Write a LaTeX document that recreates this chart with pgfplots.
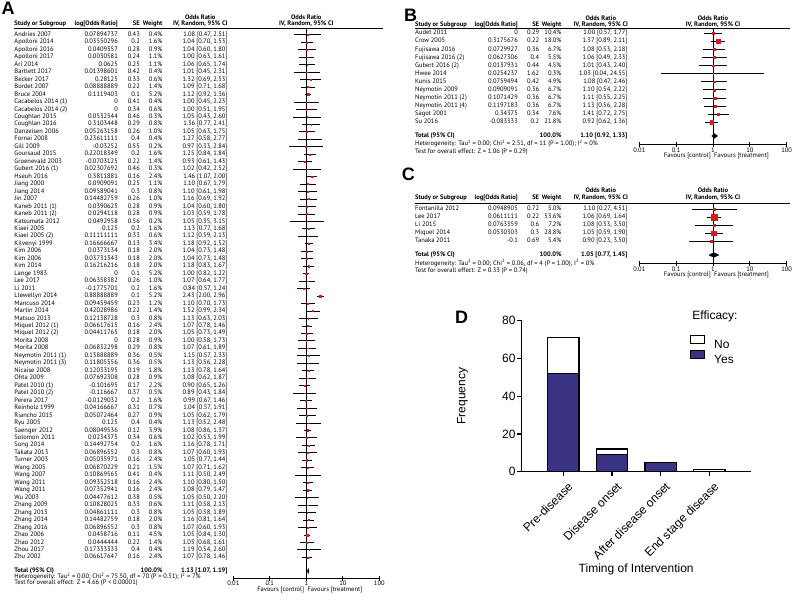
\documentclass[border=0pt]{standalone}
\usepackage{fontspec}
\setmainfont{PT Sans}
\newfontfamily\arial{Liberation Sans}
\usepackage{pgfplots}
\usepackage{pgfplotstable}
\pgfplotsset{compat=1.18}

\definecolor{orred}{RGB}{214,28,32}
\definecolor{yesblue}{RGB}{58,50,130}
\newcommand\fs{\fontsize{6.5}{7.5}\selectfont}
\newcommand\dfont{\arial\fontsize{12}{14}\selectfont}
\newcommand\lfont{\arial\bfseries\fontsize{18}{20}\selectfont}

% panel A: study; log OR; SE; weight; OR; CI low; CI high
\pgfplotstableread[col sep=semicolon]{
study;lor;se;w;or;lo;hi
Andries 2007;0.07894737;0.43;0.4;1.08;0.47;2.51
Apolloni 2014;0.03550296;0.2;1.6;1.04;0.70;1.53
Apolloni 2016;0.0409357;0.28;0.9;1.04;0.60;1.80
Apolloni 2017;0.0030581;0.24;1.1;1.00;0.63;1.61
Ari 2014;0.0625;0.25;1.1;1.06;0.65;1.74
Bartlett 2017;0.01398601;0.42;0.4;1.01;0.45;2.31
Becker 2017;0.28125;0.33;0.6;1.32;0.69;2.53
Bordet 2007;0.08888889;0.22;1.4;1.09;0.71;1.68
Bruce 2004;0.1119403;0.1;5.2;1.12;0.92;1.36
Cacabelos 2014 (1);0;0.41;0.4;1.00;0.45;2.23
Cacabelos 2014 (2);0;0.34;0.6;1.00;0.51;1.95
Coughlan 2015;0.0532544;0.46;0.3;1.05;0.43;2.60
Coughlan 2016;0.3103448;0.29;0.8;1.36;0.77;2.41
Danzeisen 2006;0.05263158;0.26;1.0;1.05;0.63;1.75
Fornai 2008;0.23611111;0.4;0.4;1.27;0.58;2.77
Gill 2009;-0.03252;0.55;0.2;0.97;0.33;2.84
Goursaud 2015;0.22018349;0.2;1.6;1.25;0.84;1.84
Groenevald 2003;-0.0703125;0.22;1.4;0.93;0.61;1.43
Gubert 2016 (1);0.02307692;0.46;0.3;1.02;0.42;2.52
Hseuh 2016;0.3811881;0.16;2.4;1.46;1.07;2.00
Jiang 2000;0.0909091;0.25;1.1;1.10;0.67;1.79
Jiang 2014;0.09589041;0.3;0.8;1.10;0.61;1.98
Jin 2007;0.14482759;0.26;1.0;1.16;0.69;1.92
Kaneb 2011 (1);0.0390625;0.28;0.9;1.04;0.60;1.80
Kaneb 2011 (2);0.0294118;0.28;0.9;1.03;0.59;1.78
Katsumata 2012;0.0492958;0.56;0.2;1.05;0.35;3.15
Kiaei 2005;0.125;0.2;1.6;1.13;0.77;1.68
Kiaei 2005 (2);0.11111111;0.33;0.6;1.12;0.59;2.13
Kilvenyi 1999;0.16666667;0.13;3.4;1.18;0.92;1.52
Kim 2006;0.0373134;0.18;2.0;1.04;0.73;1.48
Kim 2006;0.03731343;0.18;2.0;1.04;0.73;1.48
Kim 2014;0.16216216;0.18;2.0;1.18;0.83;1.67
Lange 1983;0;0.1;5.2;1.00;0.82;1.22
Lee 2017;0.06358382;0.26;1.0;1.07;0.64;1.77
Li 2011;-0.1775701;0.2;1.6;0.84;0.57;1.24
Llewellyn 2014;0.88888889;0.1;5.2;2.43;2.00;2.96
Mancuso 2014;0.09459459;0.23;1.2;1.10;0.70;1.73
Martin 2014;0.42028986;0.22;1.4;1.52;0.99;2.34
Matsuo 2013;0.12138728;0.3;0.8;1.13;0.63;2.03
Miquel 2012 (1);0.06617615;0.16;2.4;1.07;0.78;1.46
Miquel 2012 (2);0.04411765;0.18;2.0;1.05;0.73;1.49
Morita 2008;0;0.28;0.9;1.00;0.58;1.73
Morita 2008;0.06832298;0.29;0.8;1.07;0.61;1.89
Neymotin 2011 (1);0.13888889;0.36;0.5;1.15;0.57;2.33
Neymotin 2011 (3);0.11805556;0.36;0.5;1.13;0.56;2.28
Nicaise 2008;0.12033195;0.19;1.8;1.13;0.78;1.64
Ohta 2009;0.07692308;0.28;0.9;1.08;0.62;1.87
Patel 2010 (1);-0.101695;0.17;2.2;0.90;0.65;1.26
Patel 2010 (2);-0.116667;0.37;0.5;0.89;0.43;1.84
Perera 2017;-0.0129032;0.2;1.6;0.99;0.67;1.46
Reinholz 1999;0.04166667;0.31;0.7;1.04;0.57;1.91
Riancho 2015;0.05072464;0.27;0.9;1.05;0.62;1.79
Ryu 2005;0.125;0.4;0.4;1.13;0.52;2.48
Saenger 2012;0.08049536;0.12;3.9;1.08;0.86;1.37
Solomon 2011;0.0234375;0.34;0.6;1.02;0.53;1.99
Song 2014;0.14492754;0.2;1.6;1.16;0.78;1.71
Takata 2013;0.06896552;0.3;0.8;1.07;0.60;1.93
Turner 2003;0.05035971;0.16;2.4;1.05;0.77;1.44
Wang 2005;0.06870229;0.21;1.5;1.07;0.71;1.62
Wang 2007;0.10869565;0.41;0.4;1.11;0.50;2.49
Wang 2011;0.09352518;0.16;2.4;1.10;0.80;1.50
Wang 2011;0.07352941;0.16;2.4;1.08;0.79;1.47
Wu 2003;0.04477612;0.38;0.5;1.05;0.50;2.20
Zhang 2009;0.10828025;0.33;0.6;1.11;0.58;2.13
Zhang 2013;0.04861111;0.3;0.8;1.05;0.58;1.89
Zhang 2014;0.14482759;0.18;2.0;1.16;0.81;1.64
Zhang 2016;0.06896552;0.3;0.8;1.07;0.60;1.93
Zhao 2006;0.0458716;0.11;4.5;1.05;0.84;1.30
Zhao 2012;0.0444444;0.22;1.4;1.05;0.68;1.61
Zhou 2017;0.17333333;0.4;0.4;1.19;0.54;2.60
Zhu 2002;0.06617647;0.16;2.4;1.07;0.78;1.46
}\tabA

\pgfplotstableread[col sep=semicolon]{
study;lor;se;w;or;lo;hi
Audet 2011;0;0.29;10.4;1.00;0.57;1.77
Crow 2005;0.3175676;0.22;18.0;1.37;0.89;2.11
Fujisawa 2016;0.0729927;0.36;6.7;1.08;0.53;2.18
Fujisawa 2016 (2);0.0627306;0.4;5.5;1.06;0.49;2.33
Gubert 2016 (2);0.0137931;0.44;4.5;1.01;0.43;2.40
Hwee 2014;0.0254237;1.62;0.3;1.03;0.04;24.55
Kunis 2015;0.0759494;0.42;4.9;1.08;0.47;2.46
Neymotin 2009;0.0909091;0.36;6.7;1.10;0.54;2.22
Neymotin 2011 (2);0.1071429;0.36;6.7;1.11;0.55;2.25
Neymotin 2011 (4);0.1197183;0.36;6.7;1.13;0.56;2.28
Sagot 2001;0.34375;0.34;7.6;1.41;0.72;2.75
Su 2016;-0.083333;0.2;21.8;0.92;0.62;1.36
}\tabB

\pgfplotstableread[col sep=semicolon]{
study;lor;se;w;or;lo;hi
Fontanilla 2012;0.0948905;0.72;5.0;1.10;0.27;4.51
Lee 2017;0.0611111;0.22;53.6;1.06;0.69;1.64
Li 2015;0.0763359;0.6;7.2;1.08;0.33;3.50
Miquel 2014;0.0530303;0.3;28.8;1.05;0.59;1.90
Tanaka 2011;-0.1;0.69;5.4;0.90;0.23;3.50
}\tabC

\pgfplotsset{
  forest/.style={scale only axis, width=146pt, xmin=-2, xmax=2, clip=false,
    axis x line=bottom, axis y line=none, axis line style={-, black, line width=0.8pt},
    xtick={-2,-1,0,1,2}, xticklabels={0.01,0.1,1,10,100},
    tick align=center, major tick length=5pt, tick style={black, line width=0.8pt},
    xticklabel style={font=\fs, inner sep=0pt, yshift=-0.5pt}},
  txt/.style={only marks, mark=none, nodes near coords, point meta=explicit symbolic,
    every node near coord/.append style={font=\fs, inner sep=0pt, text height=4.6pt,
      text depth=1.4pt, black, /pgf/number format/fixed, /pgf/number format/fixed zerofill,
      /pgf/number format/precision=2, /pgf/number format/assume math mode=true}},
  dleg/.style={legend image code/.code={\draw[##1] (0pt,0.4pt) rectangle (14.5pt,8.2pt);}},
}
\tikzset{
  hd/.style={font=\fs\bfseries, inner sep=0pt, text height=4.6pt, text depth=1.4pt},
  nt/.style={font=\fs, inner sep=0pt, text height=4.6pt, text depth=1.4pt},
}

% rows, squares, CIs and the header of one forest panel
\newcommand\forestrows[1]{%
  \draw[black, line width=0.8pt] (axis cs:0,\ry) -- (axis cs:0,\ymn);
  \draw[black, line width=1.1pt] ([xshift=\xs]axis cs:0,\ry) -- ([xshift=77pt]axis cs:0,\ry);
  \addplot[scatter, only marks, mark=square*,
    scatter/use mapped color={draw=orred, fill=orred},
    visualization depends on={0.4*sqrt(\thisrow{w}) \as \msz},
    scatter/@pre marker code/.append style={/tikz/mark size=\msz},
    error bars/.cd, x dir=both, x explicit, error mark=none,
    error bar style={black, line width=0.8pt}]
    table[x expr=log10(\thisrow{or}), y expr=-\coordindex,
      x error plus expr=log10(\thisrow{hi})-log10(\thisrow{or}),
      x error minus expr=log10(\thisrow{or})-log10(\thisrow{lo})] {#1};
  \addplot[txt, every node near coord/.append style={anchor=west, xshift=\xs}]
    table[x expr=0, y expr=-\coordindex, meta=study] {#1};
  \addplot[txt, every node near coord/.append style={anchor=east, xshift=\xl}]
    table[x expr=0, y expr=-\coordindex, meta=lor] {#1};
  \addplot[txt, every node near coord/.append style={anchor=east, xshift=\xe}]
    table[x expr=0, y expr=-\coordindex, meta=se] {#1};
  \addplot[txt, nodes near coords={\pgfplotspointmeta\%},
    every node near coord/.append style={anchor=east, xshift=\xw}]
    table[x expr=0, y expr=-\coordindex, meta=w] {#1};
  \addplot[txt, nodes near coords={\pgfplotspointmeta\ [\pgfmathprintnumber{\lov}, \pgfmathprintnumber{\hiv}]},
    visualization depends on={\thisrow{lo} \as \lov},
    visualization depends on={\thisrow{hi} \as \hiv},
    every node near coord/.append style={anchor=east, xshift=\xc}]
    table[x expr=0, y expr=-\coordindex, meta=or] {#1};
  \node[hd, anchor=west] at ([xshift=\xs]axis cs:0,\hb) {Study or Subgroup};
  \node[hd, anchor=east] at ([xshift=\xl]axis cs:0,\hb) {log[Odds Ratio]};
  \node[hd, anchor=east] at ([xshift=\xe]axis cs:0,\hb) {SE};
  \node[hd, anchor=east] at ([xshift=\xw]axis cs:0,\hb) {Weight};
  \node[hd] at ([xshift=\xh]axis cs:0,\hb) {IV, Random, 95\% CI};
  \node[hd] at ([xshift=\xh]axis cs:0,\ha) {Odds Ratio};
  \node[hd] at (axis cs:0,\hb) {IV, Random, 95\% CI};
  \node[hd] at (axis cs:0,\ha) {Odds Ratio};
  \node[nt, anchor=east] at ([xshift=-2pt, yshift=-11.5pt]rel axis cs:0.5,0) {Favours [control]};
  \node[nt, anchor=west] at ([xshift=1pt, yshift=-11.5pt]rel axis cs:0.5,0) {Favours [treatment]};
}

\begin{document}
\begin{tikzpicture}
\useasboundingbox (0,0) rectangle (800pt,-603pt);

% ---------------- A ----------------
\def\xs{-292pt}\def\xl{-188.3pt}\def\xe{-166.3pt}\def\xw{-143.6pt}\def\xc{-78.6pt}\def\xh{-106pt}
\def\ry{0.871}\def\ymn{-72.77}\def\hb{1.41}\def\ha{2.29}
\begin{axis}[forest, at={(233.3pt,-578pt)}, anchor=south west,
  height=549.7pt, ymin=-72.77, ymax=0.871]
\forestrows{\tabA}
\addplot[fill=black, draw=black, line width=0.3pt]
  table[row sep=\\, x expr=log10(\thisrow{x}), y=y]
  {x y\\ 1.07 -71.84\\ 1.13 -71.49\\ 1.19 -71.84\\ 1.13 -72.19\\ 1.07 -71.84\\};
\node[hd, anchor=west] at ([xshift=\xs]axis cs:0,-71.84) {Total (95\% CI)};
\node[hd, anchor=east] at ([xshift=\xw]axis cs:0,-71.84) {100.0\%};
\node[hd, anchor=east] at ([xshift=\xc]axis cs:0,-71.84) {1.13 [1.07, 1.19]};
\node[nt, anchor=west] at ([xshift=\xs]axis cs:0,-72.68) {Heterogeneity: Tau\textsuperscript{2} = 0.00; Chi\textsuperscript{2} = 75.50, df = 70 (P = 0.31); I\textsuperscript{2} = 7\%};
\node[nt, anchor=west] at ([xshift=\xs]axis cs:0,-73.49) {Test for overall effect: Z = 4.66 (P < 0.00001)};
\end{axis}

% ---------------- B ----------------
\def\xs{-298pt}\def\xl{-195pt}\def\xe{-173.7pt}\def\xw{-151.3pt}\def\xc{-85.3pt}\def\xh{-112.2pt}
\def\ry{0.62}\def\ymn{-13.74}\def\hb{1.03}\def\ha{1.77}
\begin{axis}[forest, at={(639.3pt,-144.3pt)}, anchor=south west, width=147.4pt,
  height=116pt, ymin=-13.74, ymax=0.62]
\forestrows{\tabB}
\addplot[fill=black, draw=black, line width=0.3pt]
  table[row sep=\\, x expr=log10(\thisrow{x}), y=y]
  {x y\\ 0.92 -12.71\\ 1.10 -12.41\\ 1.33 -12.71\\ 1.10 -13.01\\ 0.92 -12.71\\};
\node[hd, anchor=west] at ([xshift=\xs]axis cs:0,-12.71) {Total (95\% CI)};
\node[hd, anchor=east] at ([xshift=\xw]axis cs:0,-12.71) {100.0\%};
\node[hd, anchor=east] at ([xshift=\xc]axis cs:0,-12.71) {1.10 [0.92, 1.33]};
\node[nt, anchor=west] at ([xshift=\xs]axis cs:0,-13.74) {Heterogeneity: Tau\textsuperscript{2} = 0.00; Chi\textsuperscript{2} = 2.51, df = 11 (P = 1.00); I\textsuperscript{2} = 0\%};
\node[nt, anchor=west] at ([xshift=\xs]axis cs:0,-14.69) {Test for overall effect: Z = 1.06 (P = 0.29)};
\end{axis}

% ---------------- C ----------------
\def\ry{0.71}\def\ymn{-6.81}\def\hb{1.375}\def\ha{2.25}
\begin{axis}[forest, at={(639.3pt,-263.5pt)}, anchor=south west, width=147.4pt,
  height=60.2pt, ymin=-6.81, ymax=0.71]
\forestrows{\tabC}
\addplot[fill=black, draw=black, line width=0.3pt]
  table[row sep=\\, x expr=log10(\thisrow{x}), y=y]
  {x y\\ 0.77 -5.75\\ 1.05 -5.45\\ 1.45 -5.75\\ 1.05 -6.05\\ 0.77 -5.75\\};
\node[hd, anchor=west] at ([xshift=\xs]axis cs:0,-5.75) {Total (95\% CI)};
\node[hd, anchor=east] at ([xshift=\xw]axis cs:0,-5.75) {100.0\%};
\node[hd, anchor=east] at ([xshift=\xc]axis cs:0,-5.75) {1.05 [0.77, 1.45]};
\node[nt, anchor=west] at ([xshift=\xs]axis cs:0,-6.81) {Heterogeneity: Tau\textsuperscript{2} = 0.00; Chi\textsuperscript{2} = 0.06, df = 4 (P = 1.00); I\textsuperscript{2} = 0\%};
\node[nt, anchor=west] at ([xshift=\xs]axis cs:0,-7.75) {Test for overall effect: Z = 0.33 (P = 0.74)};
\end{axis}

% ---------------- D ----------------
\begin{axis}[at={(521.7pt,-471.7pt)}, anchor=south west, scale only axis,
  width=229pt, height=151.1pt,
  xmin=-0.855, xmax=3.85, ymin=0, ymax=80,
  axis x line=bottom, axis y line=left, axis line style={-, black, line width=1.3pt},
  ybar stacked, bar width=31.5pt,
  xtick={0,1,2,3},
  xticklabels={Pre-disease,Disease onset,After disease onset,End stage disease},
  ytick={0,20,40,60,80},
  tick align=outside, major tick length=4.5pt, tick style={black, line width=1.3pt},
  xticklabel style={font=\dfont, xshift=4pt, yshift=-5pt, rotate=45, anchor=north east, inner sep=0pt},
  yticklabel style={font=\dfont, inner sep=0pt, xshift=-1.5pt},
  /pgf/number format/assume math mode=true,
  xlabel={Timing of Intervention}, ylabel={Frequency},
  xlabel style={font=\dfont, at={(axis description cs:0.5,-0.646)}, anchor=center},
  ylabel style={font=\dfont, at={(axis description cs:-0.2585,0.5)}, anchor=center},
  legend style={at={(axis description cs:0.732,0.906)}, anchor=north west,
    draw=none, fill=none, font=\dfont, inner sep=0pt, row sep=2pt,
    nodes={inner sep=0pt, text height=8.6pt, text depth=0pt},
    /tikz/every odd column/.append style={column sep=9pt}},
  legend cell align=left, reverse legend,
]
\addplot[fill=yesblue, draw=black, line width=1.2pt, dleg]
  coordinates {(0,52) (1,9) (2,5) (3,0)};
\addplot[fill=white, draw=black, line width=1.2pt, dleg]
  coordinates {(0,19) (1,3) (2,0) (3,1)};
\legend{Yes,No}
\end{axis}

\node[font=\dfont] at (715pt,-316pt) {Efficacy:};
\node[font=\lfont, anchor=base west, inner sep=0pt] at (1.5pt,-14pt) {A};
\node[font=\lfont, anchor=base west, inner sep=0pt] at (404pt,-21.7pt) {B};
\node[font=\lfont, anchor=base west, inner sep=0pt] at (401.7pt,-180pt) {C};
\node[font=\lfont, anchor=base west, inner sep=0pt] at (455pt,-323.3pt) {D};
\end{tikzpicture}
\end{document}
